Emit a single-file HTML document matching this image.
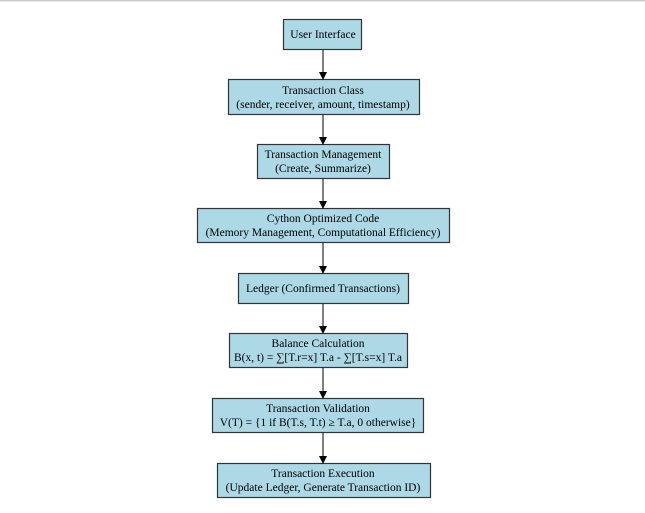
<!DOCTYPE html>
<html><head><style>body{margin:0;background:#fff}svg{display:block}</style></head><body>
<svg width="645" height="513" xmlns="http://www.w3.org/2000/svg" font-family="Liberation Serif, serif" font-size="11.5" text-anchor="middle">
<rect x="0" y="0" width="645" height="1.5" fill="#ccc"/>
<defs><marker id="a" markerWidth="8" markerHeight="8" refX="7" refY="4" orient="auto" markerUnits="userSpaceOnUse"><path d="M0,0 L8,4 L0,8z" fill="#000"/></marker></defs>
<g fill="#add8e6" stroke="#333" stroke-width="1.2">
<rect x="283.5" y="19.5" width="78" height="30"/>
<rect x="228.5" y="79.5" width="191" height="35"/>
<rect x="257.5" y="144.5" width="132" height="34"/>
<rect x="197.5" y="208.5" width="252" height="34"/>
<rect x="238.5" y="273.5" width="170" height="30"/>
<rect x="229.5" y="333.5" width="178" height="34"/>
<rect x="212.5" y="398.5" width="211" height="34"/>
<rect x="217.5" y="463.5" width="213" height="34"/>
</g>
<g stroke="#000" stroke-width="1" marker-end="url(#a)">
<line x1="323" y1="50" x2="323" y2="79"/>
<line x1="323" y1="115" x2="323" y2="144"/>
<line x1="323" y1="179" x2="323" y2="208"/>
<line x1="323" y1="243" x2="323" y2="273"/>
<line x1="323" y1="304" x2="323" y2="333"/>
<line x1="323" y1="368" x2="323" y2="398"/>
<line x1="323" y1="433" x2="323" y2="463"/>
</g>
<g fill="#000">
<text x="323" y="38">User Interface</text>
<text x="323" y="94">Transaction Class</text>
<text x="323" y="108">(sender, receiver, amount, timestamp)</text>
<text x="323" y="158">Transaction Management</text>
<text x="323" y="172">(Create, Summarize)</text>
<text x="323" y="222">Cython Optimized Code</text>
<text x="323" y="236">(Memory Management, Computational Efficiency)</text>
<text x="323" y="292">Ledger (Confirmed Transactions)</text>
<text x="318" y="347">Balance Calculation</text>
<text x="318" y="361">B(x, t) = ∑[T.r=x] T.a - ∑[T.s=x] T.a</text>
<text x="318" y="412">Transaction Validation</text>
<text x="318" y="426">V(T) = {1 if B(T.s, T.t) ≥ T.a, 0 otherwise}</text>
<text x="323" y="477">Transaction Execution</text>
<text x="323" y="491">(Update Ledger, Generate Transaction ID)</text>
</g>
</svg>
</body></html>
